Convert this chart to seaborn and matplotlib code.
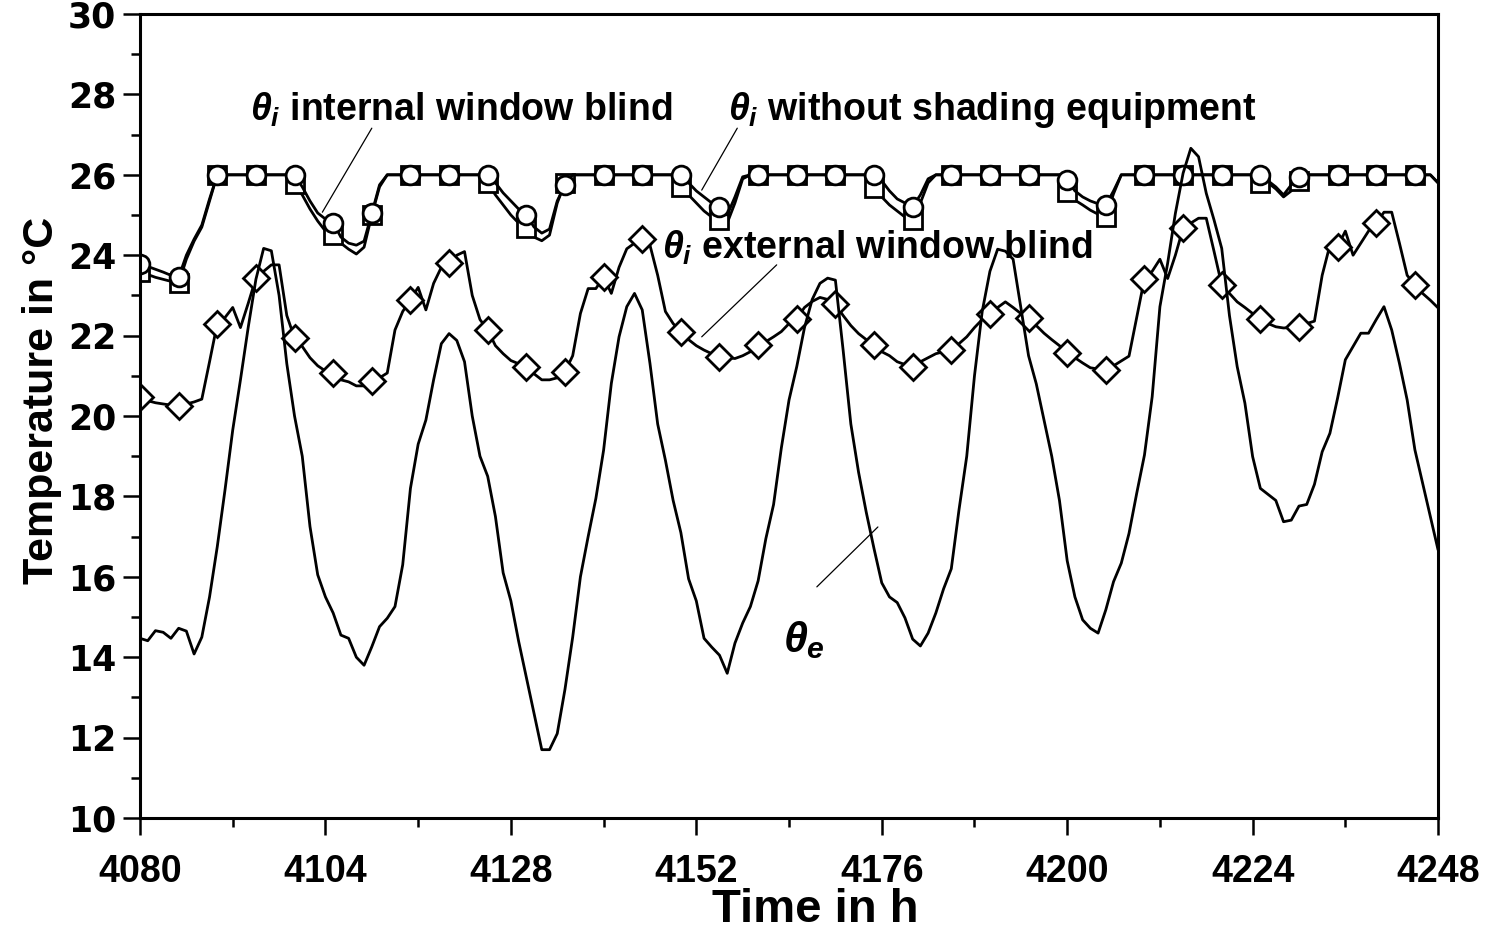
import numpy as np
import pandas as pd
import matplotlib
matplotlib.use('Agg')
import matplotlib.pyplot as plt
from matplotlib.ticker import MultipleLocator
import seaborn as sns

# hours of the simulation window
hours = np.arange(4080, 4249)

# outdoor air temperature (theta_e)
theta_e = [
    14.47, 14.41, 14.66, 14.62, 14.47, 14.72, 14.65, 14.08, 14.50, 15.50,
    16.75, 18.16, 19.65, 20.90, 22.20, 23.40, 24.17, 24.11, 23.00, 21.30,
    20.00, 19.00, 17.25, 16.05, 15.50, 15.10, 14.55, 14.47, 14.00, 13.80,
    14.26, 14.76, 14.97, 15.26, 16.30, 18.20, 19.30, 19.90, 20.90, 21.80,
    22.05, 21.88, 21.35, 20.00, 19.00, 18.50, 17.50, 16.10, 15.40, 14.40,
    13.50, 12.60, 11.70, 11.70, 12.10, 13.20, 14.50, 16.00, 17.00, 17.95,
    19.15, 20.81, 21.97, 22.72, 23.05, 22.64, 21.31, 19.80, 18.90, 17.90,
    17.10, 15.95, 15.40, 14.47, 14.25, 14.05, 13.60, 14.35, 14.85, 15.26,
    15.90, 16.95, 17.80, 19.20, 20.40, 21.23, 22.20, 22.90, 23.30, 23.43,
    23.38, 21.64, 19.80, 18.60, 17.60, 16.70, 15.85, 15.50, 15.36, 14.98,
    14.45, 14.28, 14.60, 15.10, 15.70, 16.20, 17.67, 19.00, 21.00, 22.60,
    23.60, 24.15, 24.10, 23.90, 22.70, 21.50, 20.80, 19.90, 19.00, 17.90,
    16.40, 15.50, 14.93, 14.72, 14.60, 15.18, 15.88, 16.34, 17.08, 18.08,
    19.03, 20.48, 22.72, 23.80, 25.04, 26.04, 26.66, 26.45, 25.54, 24.88,
    24.17, 22.50, 21.23, 20.32, 18.99, 18.20, 18.05, 17.90, 17.37, 17.41,
    17.76, 17.80, 18.30, 19.11, 19.57, 20.45, 21.40, 21.73, 22.06, 22.06,
    22.40, 22.72, 22.14, 21.31, 20.40, 19.16, 18.33, 17.50, 16.67,
]

# room temperature with external window blind (diamonds)
theta_i_external = [
    20.48, 20.38, 20.33, 20.30, 20.27, 20.24, 20.30, 20.35, 20.42, 21.35,
    22.30, 22.45, 22.70, 22.20, 22.80, 23.43, 23.60, 23.76, 23.76, 22.50,
    21.94, 21.73, 21.45, 21.25, 21.12, 21.07, 20.90, 20.85, 20.75, 20.75,
    20.86, 20.95, 21.07, 22.14, 22.60, 22.89, 23.20, 22.64, 23.30, 23.70,
    23.80, 24.00, 24.09, 23.00, 22.40, 22.14, 21.75, 21.55, 21.38, 21.30,
    21.22, 21.05, 20.90, 20.90, 20.95, 21.10, 21.50, 22.55, 23.17, 23.17,
    23.46, 23.05, 23.70, 24.16, 24.30, 24.41, 24.25, 23.50, 22.60, 22.30,
    22.09, 21.90, 21.75, 21.64, 21.55, 21.47, 21.45, 21.43, 21.50, 21.60,
    21.76, 21.85, 21.97, 22.10, 22.30, 22.42, 22.70, 22.85, 22.95, 22.90,
    22.78, 22.50, 22.25, 22.05, 21.90, 21.76, 21.60, 21.50, 21.35, 21.28,
    21.22, 21.35, 21.45, 21.55, 21.60, 21.64, 21.80, 21.97, 22.20, 22.40,
    22.55, 22.70, 22.84, 22.70, 22.55, 22.43, 22.25, 22.06, 21.90, 21.75,
    21.58, 21.45, 21.32, 21.20, 21.17, 21.15, 21.25, 21.37, 21.49, 22.45,
    23.42, 23.60, 23.90, 23.42, 24.00, 24.67, 24.80, 24.92, 24.92, 24.10,
    23.26, 23.05, 22.84, 22.70, 22.55, 22.41, 22.30, 22.22, 22.19, 22.20,
    22.22, 22.30, 22.36, 23.50, 24.25, 24.21, 24.60, 24.00, 24.30, 24.60,
    24.79, 25.07, 25.07, 24.30, 23.50, 23.26, 23.05, 22.88, 22.69,
]

# room temperature with internal window blind (squares)
theta_i_internal = [
    23.59, 23.52, 23.45, 23.40, 23.35, 23.30, 23.90, 24.35, 24.70, 25.35,
    26.00, 26.00, 26.00, 26.00, 26.00, 26.00, 26.00, 26.00, 26.00, 26.00,
    25.77, 25.50, 25.15, 24.85, 24.60, 24.50, 24.30, 24.15, 24.03, 24.20,
    25.00, 25.70, 26.00, 26.00, 26.00, 26.00, 26.00, 26.00, 26.00, 26.00,
    26.00, 26.00, 26.00, 26.00, 26.00, 25.79, 25.50, 25.25, 25.00, 24.80,
    24.67, 24.45, 24.36, 24.50, 25.30, 25.80, 26.00, 26.00, 26.00, 26.00,
    26.00, 26.00, 26.00, 26.00, 26.00, 26.00, 26.00, 26.00, 26.00, 26.00,
    25.69, 25.50, 25.30, 25.10, 24.95, 24.87, 24.80, 25.30, 25.90, 26.00,
    26.00, 26.00, 26.00, 26.00, 26.00, 26.00, 26.00, 26.00, 26.00, 26.00,
    26.00, 26.00, 26.00, 26.00, 26.00, 25.66, 25.45, 25.25, 25.10, 24.95,
    24.87, 25.30, 25.80, 26.00, 26.00, 26.00, 26.00, 26.00, 26.00, 26.00,
    26.00, 26.00, 26.00, 26.00, 26.00, 26.00, 26.00, 26.00, 26.00, 26.00,
    25.58, 25.37, 25.25, 25.12, 25.02, 24.94, 25.53, 26.00, 26.00, 26.00,
    26.00, 26.00, 26.00, 26.00, 26.00, 26.00, 26.00, 26.00, 26.00, 26.00,
    26.00, 26.00, 26.00, 26.00, 26.00, 25.80, 25.80, 25.65, 25.45, 25.60,
    25.85, 26.00, 26.00, 26.00, 26.00, 26.00, 26.00, 26.00, 26.00, 26.00,
    26.00, 26.00, 26.00, 26.00, 26.00, 26.00, 26.00, 26.00, 25.80,
]

# room temperature without shading equipment (circles)
theta_i_none = [
    23.78, 23.72, 23.65, 23.58, 23.50, 23.45, 24.00, 24.40, 24.75, 25.40,
    26.00, 26.00, 26.00, 26.00, 26.00, 26.00, 26.00, 26.00, 26.00, 26.00,
    26.00, 25.70, 25.35, 25.05, 24.90, 24.81, 24.45, 24.30, 24.25, 24.35,
    25.04, 25.75, 26.00, 26.00, 26.00, 26.00, 26.00, 26.00, 26.00, 26.00,
    26.00, 26.00, 26.00, 26.00, 26.00, 26.00, 25.80, 25.55, 25.35, 25.15,
    25.00, 24.70, 24.55, 24.65, 25.35, 25.75, 26.00, 26.00, 26.00, 26.00,
    26.00, 26.00, 26.00, 26.00, 26.00, 26.00, 26.00, 26.00, 26.00, 26.00,
    26.00, 25.80, 25.60, 25.45, 25.30, 25.21, 25.00, 25.45, 25.95, 26.00,
    26.00, 26.00, 26.00, 26.00, 26.00, 26.00, 26.00, 26.00, 26.00, 26.00,
    26.00, 26.00, 26.00, 26.00, 26.00, 26.00, 25.85, 25.60, 25.40, 25.30,
    25.21, 25.50, 25.90, 26.00, 26.00, 26.00, 26.00, 26.00, 26.00, 26.00,
    26.00, 26.00, 26.00, 26.00, 26.00, 26.00, 26.00, 26.00, 26.00, 26.00,
    25.87, 25.60, 25.45, 25.35, 25.28, 25.25, 25.60, 26.00, 26.00, 26.00,
    26.00, 26.00, 26.00, 26.00, 26.00, 26.00, 26.00, 26.00, 26.00, 26.00,
    26.00, 26.00, 26.00, 26.00, 26.00, 26.00, 25.85, 25.70, 25.50, 25.75,
    25.95, 26.00, 26.00, 26.00, 26.00, 26.00, 26.00, 26.00, 26.00, 26.00,
    26.00, 26.00, 26.00, 26.00, 26.00, 26.00, 26.00, 26.00, 25.80,
]

df = pd.DataFrame({
    'hour': hours,
    'theta_e': theta_e,
    'external': theta_i_external,
    'internal': theta_i_internal,
    'none': theta_i_none,
})

sns.set_style('ticks')
plt.rcParams['font.family'] = ['Liberation Sans', 'DejaVu Sans']
plt.rcParams['font.weight'] = 'bold'
plt.rcParams['text.color'] = 'black'
plt.rcParams['axes.labelcolor'] = 'black'
plt.rcParams['xtick.color'] = 'black'
plt.rcParams['ytick.color'] = 'black'
plt.rcParams['axes.edgecolor'] = 'black'
plt.rcParams['mathtext.fontset'] = 'custom'
plt.rcParams['mathtext.rm'] = 'Liberation Sans:bold'
plt.rcParams['mathtext.it'] = 'Liberation Sans:italic:bold'
plt.rcParams['mathtext.bf'] = 'Liberation Sans:bold'

fig = plt.figure(figsize=(14.91, 9.47), dpi=100)
ax = fig.add_axes([0.0939, 0.1362, 0.8706, 0.849])

lw = 2.0
mk = dict(markevery=5, markerfacecolor='white', markeredgecolor='black', markeredgewidth=2.0)

sns.lineplot(data=df, x='hour', y='external', color='black', lw=lw, marker='D', ms=13, ax=ax, **mk)
sns.lineplot(data=df, x='hour', y='internal', color='black', lw=lw, marker='s', ms=12.5, ax=ax, **mk)
sns.lineplot(data=df, x='hour', y='none', color='black', lw=lw, marker='o', ms=13.5, ax=ax, **mk)
sns.lineplot(data=df, x='hour', y='theta_e', color='black', lw=lw, ax=ax)

ax.set_xlim(4080, 4248)
ax.set_ylim(10, 30)
ax.xaxis.set_major_locator(MultipleLocator(24))
ax.xaxis.set_minor_locator(MultipleLocator(12))
ax.yaxis.set_major_locator(MultipleLocator(2))
ax.yaxis.set_minor_locator(MultipleLocator(1))
ax.tick_params(which='major', direction='out', length=12, width=1.8, color='black')
ax.tick_params(which='minor', direction='out', length=6.5, width=1.8, color='black')
ax.tick_params(axis='x', which='major', pad=14, labelsize=27)
ax.tick_params(axis='y', which='major', pad=5, labelsize=25)
for lab in ax.get_yticklabels():
    lab.set_fontfamily('DejaVu Sans')
    lab.set_fontweight('bold')
for lab in ax.get_xticklabels():
    lab.set_fontweight('bold')
for s in ax.spines.values():
    s.set_visible(True)
    s.set_linewidth(2.2)
    s.set_color('black')

ax.set_xlabel('Time in h', fontsize=34, fontweight='bold')
ax.xaxis.set_label_coords(0.52, -0.087)
ax.set_ylabel('Temperature in °C', fontsize=31, fontweight='bold')
ax.yaxis.set_label_coords(-0.06, 0.52)

# curve labels with thin leader lines
label_size = 27
labels = [
    (r'$\theta_i$ internal window blind', 4094.2, 27.61, label_size),
    (r'$\theta_i$ without shading equipment', 4156.1, 27.61, label_size),
    (r'$\theta_i$ external window blind', 4147.6, 24.18, label_size),
    (r'$\theta_e$', 4163.2, 14.43, 31),
]
for txt, lx, ly, fs in labels:
    ax.text(lx, ly, txt, fontsize=fs, fontweight='bold', ha='left', va='center')

leaders = [
    ((4110.0, 27.16), (4103.6, 25.07)),
    ((4157.3, 27.16), (4152.7, 25.62)),
    ((4162.4, 23.76), (4152.7, 21.97)),
    ((4175.5, 17.24), (4167.6, 15.75)),
]
for start, end in leaders:
    ax.annotate('', xy=start, xytext=end,
                arrowprops=dict(arrowstyle='-', lw=0.9, color='black',
                                shrinkA=0, shrinkB=0))

fig.savefig('out.png', dpi=100)
